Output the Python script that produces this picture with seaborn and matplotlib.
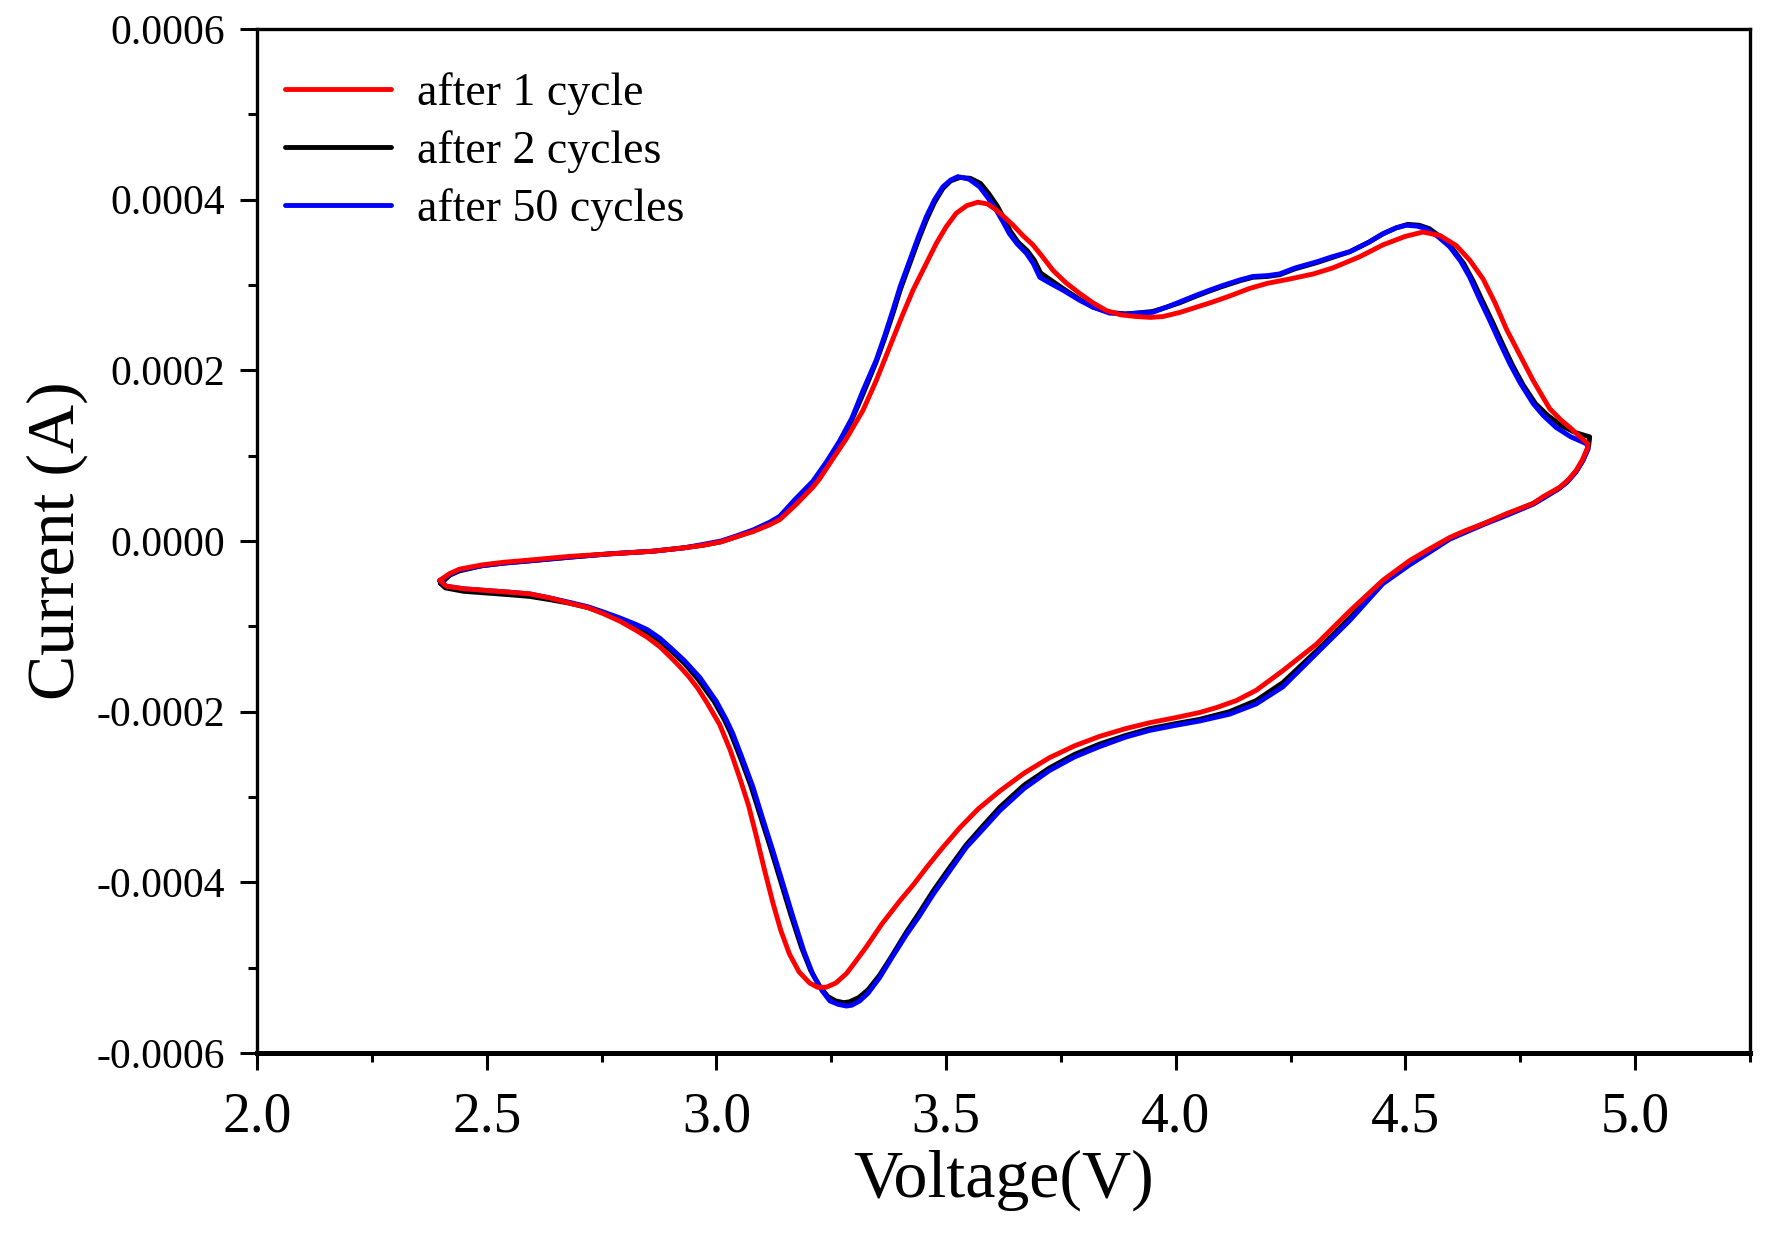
import matplotlib
matplotlib.use("Agg")
import matplotlib.pyplot as plt
import seaborn as sns
import numpy as np
from matplotlib.ticker import MultipleLocator, FormatStrFormatter

# voltage (V) and current (1e-4 A), one closed CV loop per cycle count
volt_1 = [2.398, 2.42, 2.441, 2.49, 2.536, 2.60, 2.681, 2.77, 2.862, 2.93, 2.971, 3.01, 3.044, 3.08,
          3.116, 3.138, 3.174, 3.21, 3.225, 3.247, 3.283, 3.319, 3.348, 3.377, 3.403, 3.428, 3.455,
          3.479, 3.50, 3.522, 3.545, 3.569, 3.59, 3.609, 3.628, 3.646, 3.667, 3.689, 3.71, 3.733,
          3.76, 3.791, 3.82, 3.849, 3.88, 3.914, 3.945, 3.972, 4.01, 4.045, 4.08, 4.117, 4.161, 4.20,
          4.248, 4.30, 4.342, 4.40, 4.451, 4.50, 4.538, 4.575, 4.611, 4.64, 4.669, 4.695, 4.72, 4.75,
          4.778, 4.814, 4.84, 4.858, 4.88, 4.897,
          4.897, 4.885, 4.872, 4.855, 4.836, 4.80, 4.778, 4.72, 4.669, 4.63, 4.596, 4.55, 4.509,
          4.451, 4.379, 4.306, 4.233, 4.175, 4.132, 4.09, 4.052, 4.00, 3.943, 3.89, 3.834, 3.78,
          3.725, 3.67, 3.617, 3.57, 3.53, 3.49, 3.457, 3.43, 3.399, 3.36, 3.326, 3.30, 3.283, 3.26,
          3.239, 3.22, 3.203, 3.18, 3.159, 3.14, 3.123, 3.105, 3.087, 3.07, 3.051, 3.03, 3.007, 2.98,
          2.96, 2.94, 2.92, 2.90, 2.877, 2.85, 2.826, 2.79, 2.753, 2.72, 2.681, 2.64, 2.594, 2.55,
          2.499, 2.45, 2.412, 2.398]
curr_1 = [-0.46, -0.38, -0.33, -0.28, -0.25, -0.22, -0.18, -0.15, -0.12, -0.08, -0.05, -0.01, 0.05, 0.11,
          0.19, 0.25, 0.43, 0.63, 0.73, 0.91, 1.20, 1.53, 1.88, 2.27, 2.62, 2.94, 3.23,
          3.49, 3.68, 3.84, 3.93, 3.97, 3.95, 3.88, 3.79, 3.70, 3.58, 3.47, 3.33, 3.17,
          3.03, 2.90, 2.79, 2.70, 2.65, 2.63, 2.62, 2.63, 2.68, 2.74, 2.80, 2.87, 2.96, 3.02,
          3.07, 3.13, 3.20, 3.33, 3.47, 3.57, 3.62, 3.58, 3.46, 3.29, 3.07, 2.79, 2.48, 2.17,
          1.88, 1.55, 1.41, 1.33, 1.22, 1.14,
          1.10, 0.95, 0.83, 0.72, 0.63, 0.52, 0.44, 0.32, 0.20, 0.12, 0.04, -0.10, -0.23,
          -0.46, -0.82, -1.21, -1.52, -1.75, -1.87, -1.95, -2.01, -2.07, -2.13, -2.20, -2.29, -2.40,
          -2.54, -2.72, -2.93, -3.14, -3.36, -3.61, -3.83, -4.02, -4.22, -4.49, -4.76, -4.95, -5.07, -5.18,
          -5.23, -5.23, -5.18, -5.05, -4.84, -4.56, -4.24, -3.86, -3.46, -3.10, -2.78, -2.45, -2.15, -1.90,
          -1.73, -1.59, -1.47, -1.36, -1.24, -1.13, -1.05, -0.94, -0.85, -0.78, -0.73, -0.67, -0.62, -0.60,
          -0.58, -0.56, -0.53, -0.46]

volt_2 = [2.40, 2.42, 2.441, 2.49, 2.536, 2.60, 2.681, 2.77, 2.862, 2.93, 2.971, 3.01, 3.044, 3.08,
          3.116, 3.138, 3.17, 3.21, 3.24, 3.268, 3.295, 3.319, 3.348, 3.366, 3.384, 3.40, 3.421, 3.44,
          3.457, 3.475, 3.493, 3.51, 3.53, 3.553, 3.575, 3.593, 3.612, 3.628, 3.64, 3.657, 3.677,
          3.692, 3.706, 3.73, 3.754, 3.791, 3.82, 3.856, 3.89, 3.914, 3.95, 3.98, 4.008, 4.04, 4.074,
          4.10, 4.117, 4.14, 4.168, 4.20, 4.226, 4.26, 4.306, 4.34, 4.379, 4.42, 4.451, 4.48, 4.505,
          4.53, 4.552, 4.577, 4.602, 4.627, 4.647, 4.667, 4.69, 4.712, 4.733, 4.756, 4.783, 4.81,
          4.84, 4.87, 4.901,
          4.899, 4.887, 4.872, 4.853, 4.833, 4.80, 4.778, 4.72, 4.669, 4.63, 4.596, 4.55, 4.509,
          4.451, 4.379, 4.306, 4.233, 4.175, 4.117, 4.052, 4.00, 3.943, 3.89, 3.834, 3.78, 3.725,
          3.67, 3.617, 3.58, 3.544, 3.51, 3.472, 3.44, 3.414, 3.38, 3.355, 3.33, 3.31, 3.29, 3.277,
          3.26, 3.243, 3.225, 3.205, 3.185, 3.162, 3.14, 3.118, 3.095, 3.075, 3.053, 3.031, 3.017,
          2.995, 2.96, 2.93, 2.90, 2.877, 2.85, 2.826, 2.789, 2.753, 2.72, 2.681, 2.64, 2.594, 2.55,
          2.50, 2.45, 2.41, 2.40]
curr_2 = [-0.50, -0.40, -0.35, -0.29, -0.26, -0.23, -0.19, -0.15, -0.12, -0.08, -0.05, -0.01, 0.05, 0.12,
          0.20, 0.26, 0.44, 0.66, 0.90, 1.14, 1.42, 1.72, 2.10, 2.37, 2.66, 2.94, 3.25, 3.53,
          3.76, 3.97, 4.13, 4.22, 4.26, 4.25, 4.19, 4.07, 3.92, 3.76, 3.63, 3.50, 3.40,
          3.29, 3.14, 3.05, 2.96, 2.83, 2.74, 2.68, 2.66, 2.67, 2.69, 2.74, 2.79, 2.86, 2.93,
          2.98, 3.01, 3.05, 3.09, 3.10, 3.12, 3.19, 3.26, 3.32, 3.39, 3.50, 3.60, 3.67, 3.71,
          3.70, 3.66, 3.56, 3.43, 3.25, 3.05, 2.82, 2.56, 2.30, 2.06, 1.83, 1.61, 1.47,
          1.35, 1.27, 1.22,
          1.12, 0.95, 0.82, 0.70, 0.61, 0.51, 0.44, 0.31, 0.20, 0.11, 0.03, -0.12, -0.26,
          -0.48, -0.90, -1.29, -1.66, -1.87, -2.00, -2.09, -2.14, -2.20, -2.28, -2.38, -2.50, -2.66,
          -2.86, -3.12, -3.34, -3.56, -3.81, -4.10, -4.37, -4.58, -4.88, -5.09, -5.26, -5.35, -5.40, -5.41,
          -5.39, -5.34, -5.22, -5.03, -4.76, -4.38, -3.99, -3.60, -3.21, -2.87, -2.55, -2.25, -2.09,
          -1.88, -1.62, -1.43, -1.28, -1.17, -1.07, -1.00, -0.91, -0.84, -0.78, -0.73, -0.69, -0.65, -0.63,
          -0.61, -0.59, -0.55, -0.50]

volt_50 = [2.398, 2.42, 2.441, 2.49, 2.536, 2.60, 2.681, 2.77, 2.862, 2.93, 2.971, 3.01, 3.044, 3.08,
           3.116, 3.138, 3.17, 3.21, 3.24, 3.268, 3.295, 3.319, 3.348, 3.366, 3.384, 3.40, 3.421, 3.44,
           3.457, 3.475, 3.493, 3.51, 3.526, 3.55, 3.573, 3.59, 3.609, 3.625, 3.638, 3.655, 3.675,
           3.69, 3.704, 3.73, 3.754, 3.791, 3.82, 3.856, 3.89, 3.914, 3.95, 3.98, 4.008, 4.04, 4.074,
           4.10, 4.117, 4.14, 4.168, 4.20, 4.226, 4.26, 4.306, 4.34, 4.379, 4.42, 4.451, 4.48, 4.502,
           4.525, 4.545, 4.57, 4.596, 4.62, 4.64, 4.66, 4.683, 4.705, 4.727, 4.75, 4.778, 4.80,
           4.828, 4.86, 4.894,
           4.898, 4.885, 4.87, 4.85, 4.83, 4.80, 4.778, 4.72, 4.669, 4.63, 4.596, 4.55, 4.509,
           4.451, 4.379, 4.306, 4.233, 4.175, 4.117, 4.052, 4.00, 3.943, 3.89, 3.834, 3.78, 3.725,
           3.67, 3.617, 3.58, 3.544, 3.51, 3.472, 3.44, 3.414, 3.38, 3.355, 3.33, 3.312, 3.295, 3.283,
           3.265, 3.247, 3.23, 3.21, 3.19, 3.167, 3.145, 3.123, 3.10, 3.08, 3.058, 3.036, 3.022,
           3.0, 2.964, 2.93, 2.90, 2.877, 2.85, 2.826, 2.789, 2.753, 2.72, 2.681, 2.64, 2.594, 2.55,
           2.50, 2.45, 2.412, 2.398]
curr_50 = [-0.47, -0.39, -0.34, -0.29, -0.26, -0.23, -0.19, -0.15, -0.12, -0.08, -0.04, 0.00, 0.06, 0.13,
           0.22, 0.29, 0.48, 0.70, 0.93, 1.17, 1.44, 1.76, 2.12, 2.40, 2.70, 2.98, 3.29, 3.57,
           3.80, 4.00, 4.15, 4.23, 4.27, 4.24, 4.15, 4.03, 3.88, 3.73, 3.60, 3.48, 3.37,
           3.25, 3.09, 3.01, 2.94, 2.82, 2.74, 2.67, 2.66, 2.67, 2.68, 2.74, 2.80, 2.87, 2.94,
           2.99, 3.02, 3.06, 3.10, 3.11, 3.13, 3.20, 3.27, 3.33, 3.39, 3.50, 3.60, 3.67, 3.70,
           3.69, 3.66, 3.57, 3.45, 3.28, 3.09, 2.85, 2.59, 2.33, 2.08, 1.85, 1.61, 1.47,
           1.33, 1.22, 1.14,
           1.08, 0.93, 0.80, 0.68, 0.60, 0.50, 0.43, 0.30, 0.19, 0.10, 0.02, -0.14, -0.28,
           -0.50, -0.93, -1.32, -1.71, -1.91, -2.03, -2.11, -2.16, -2.22, -2.30, -2.41, -2.53, -2.69,
           -2.90, -3.16, -3.38, -3.59, -3.85, -4.14, -4.41, -4.61, -4.90, -5.12, -5.30, -5.39, -5.44, -5.45,
           -5.43, -5.39, -5.27, -5.08, -4.80, -4.41, -4.02, -3.63, -3.24, -2.89, -2.57, -2.26, -2.10,
           -1.88, -1.60, -1.40, -1.25, -1.14, -1.04, -0.98, -0.90, -0.83, -0.77, -0.72, -0.67, -0.62, -0.60,
           -0.58, -0.56, -0.53, -0.47]

labels = ["after 1 cycle", "after 2 cycles", "after 50 cycles"]
colors = ["#ff0000", "#000000", "#0000ff"]

sns.set_style("ticks")
plt.rcParams["font.family"] = ["Liberation Serif", "DejaVu Serif"]
plt.rcParams["text.color"] = "black"
plt.rcParams["axes.labelcolor"] = "black"
plt.rcParams["xtick.color"] = "black"
plt.rcParams["ytick.color"] = "black"

fig = plt.figure(figsize=(17.7, 12.33), dpi=100)
ax = fig.add_axes([0.1452, 0.146, 0.8435, 0.8305])

series = [(volt_1, curr_1), (volt_2, curr_2), (volt_50, curr_50)]
z_order = [4, 2, 3]
handles = []
for (v, c), lab, col, z in zip(series, labels, colors, z_order):
    sns.lineplot(x=np.array(v), y=np.array(c) * 1e-4, sort=False, estimator=None,
                 color=col, lw=3.5, ax=ax, zorder=z)
    line = ax.lines[-1]
    line.set_solid_joinstyle("round")
    line.set_label(lab)
    handles.append(line)

ax.set_xlim(2.0, 5.25)
ax.set_ylim(-0.0006, 0.0006)
ax.xaxis.set_major_locator(MultipleLocator(0.5))
ax.xaxis.set_minor_locator(MultipleLocator(0.25))
ax.yaxis.set_major_locator(MultipleLocator(0.0002))
ax.yaxis.set_minor_locator(MultipleLocator(0.0001))
ax.xaxis.set_major_formatter(FormatStrFormatter("%.1f"))
ax.yaxis.set_major_formatter(FormatStrFormatter("%.4f"))

ax.tick_params(axis="both", which="major", direction="out", length=12, width=2.2, color="black")
ax.tick_params(axis="both", which="minor", direction="out", length=6.5, width=2.2, color="black")
ax.tick_params(axis="x", which="major", labelsize=40, pad=16, labelcolor="black")
ax.tick_params(axis="y", which="major", labelsize=30, pad=11, labelcolor="black")
ax.tick_params(top=False, right=False, which="both")

for side in ["left", "top", "right"]:
    ax.spines[side].set_linewidth(2.4)
    ax.spines[side].set_color("black")
ax.spines["bottom"].set_linewidth(3.6)
ax.spines["bottom"].set_color("black")

ax.set_xlabel("Voltage(V)", fontsize=49, labelpad=4, color="black")
ax.set_ylabel("Current (A)", fontsize=49, labelpad=6, color="black")

leg = ax.legend(handles=handles, labels=labels, loc="upper left",
                bbox_to_anchor=(0.019, 0.958), borderaxespad=0, borderpad=0, frameon=False,
                fontsize=33, handlelength=2.3, handletextpad=0.57, labelspacing=0.33)
for t in leg.get_texts():
    t.set_color("black")

fig.savefig("out.png", dpi=100, facecolor="white")
